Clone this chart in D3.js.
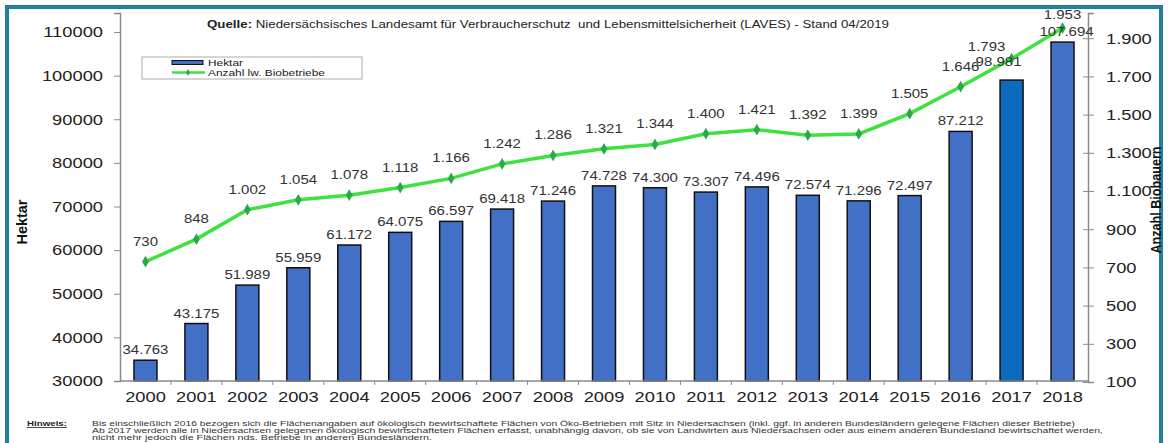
<!DOCTYPE html>
<html>
<head>
<meta charset="utf-8">
<script src="https://cdn.jsdelivr.net/npm/d3@7"></script>
<style>
  body { margin: 0; background: #fff; }
  svg { display: block; font-family: "Liberation Sans", Arial, sans-serif; }
</style>
</head>
<body>
<svg id="chart" width="1168" height="443"></svg>
<script>
// data
const years = ["2000","2001","2002","2003","2004","2005","2006","2007","2008","2009",
               "2010","2011","2012","2013","2014","2015","2016","2017","2018"];
const hektar = [34763, 43175, 51989, 55959, 61172, 64075, 66597, 69418, 71246, 74728,
                74300, 73307, 74496, 72574, 71296, 72497, 87212, 98981, 107694];
const betriebe = [730, 848, 1002, 1054, 1078, 1118, 1166, 1242, 1286, 1321,
                  1344, 1400, 1421, 1392, 1399, 1505, 1646, 1793, 1953];
const leftTicks = [30000, 40000, 50000, 60000, 70000, 80000, 90000, 100000, 110000];
const rightTicks = [100, 300, 500, 700, 900, 1100, 1300, 1500, 1700, 1900];
const legendLabels = ["Hektar", "Anzahl lw. Biobetriebe"];
const noteLines = [
  "Bis einschließlich 2016 bezogen sich die Flächenangaben auf ökologisch bewirtschaftete Flächen von Öko-Betrieben mit Sitz in Niedersachsen (inkl. ggf. in anderen Bundesländern gelegene Flächen dieser Betriebe)",
  "Ab 2017 werden alle in Niedersachsen gelegenen ökologisch bewirtschafteten Flächen erfasst, unabhängig davon, ob sie von Landwirten aus Niedersachsen oder aus einem anderen Bundesland bewirtschaftet werden,",
  "nicht mehr jedoch die Flächen nds. Betriebe in anderen Bundesländern."
];

const svg = d3.select("#chart");
const de = d3.formatLocale({decimal: ",", thousands: ".", grouping: [3], currency: ["", "€"]});
const fmt = de.format(",");

// the original picture is a bit stretched sideways, so text gets widened too
function widen(sel, k) {
  sel.each(function() {
    const w = this.getComputedTextLength();
    d3.select(this).attr("textLength", w * k).attr("lengthAdjust", "spacingAndGlyphs");
  });
}

// frame
svg.append("rect").attr("x", 7).attr("y", 7).attr("width", 1154).attr("height", 460)
  .attr("fill", "none").attr("stroke", "#21809c").attr("stroke-width", 4);

const L = 120, R = 1088, T = 13, B = 381;
const x = d3.scaleBand().domain(years).range([L, R]);
const yL = d3.scaleLinear().domain([30000, 114360]).range([B, T]);
const yR = d3.scaleLinear().domain([100, 2032]).range([B + 1, T]);

// faint plot top
svg.append("line").attr("x1", L).attr("x2", R).attr("y1", T).attr("y2", T)
  .attr("stroke", "#eee");

// bars
const bw = 23;
svg.selectAll("rect.bar").data(hektar).enter().append("rect")
  .attr("class", "bar")
  .attr("x", (d, i) => x(years[i]) + x.bandwidth() / 2 - bw / 2)
  .attr("y", d => yL(d))
  .attr("width", bw)
  .attr("height", d => B - yL(d))
  .attr("fill", (d, i) => i === 17 ? "#0b6cbf" : "#4270c6")
  .attr("stroke", "#111")
  .attr("stroke-width", 1.5);

// axes
const axL = svg.append("g").attr("transform", `translate(${L},0)`)
  .call(d3.axisLeft(yL).tickValues(leftTicks).tickSize(6).tickPadding(11).tickFormat(d3.format("d")));
const axR = svg.append("g").attr("transform", `translate(${R},0)`)
  .call(d3.axisRight(yR).tickValues(rightTicks).tickSize(6).tickPadding(12).tickFormat(fmt));
axR.selectAll(".tick line").attr("x1", -5);
const axB = svg.append("g").attr("transform", `translate(0,${B})`)
  .call(d3.axisBottom(x).tickSize(0).tickPadding(10));
// x ticks at category boundaries
svg.selectAll("line.xt").data(years.slice(1)).enter().append("line")
  .attr("x1", d => x(d)).attr("x2", d => x(d))
  .attr("y1", B).attr("y2", B + 4).attr("stroke", "#888");

[axL, axR, axB].forEach(g => {
  g.selectAll(".domain").attr("stroke", "#8a8a8a").attr("stroke-width", 1.5);
  g.selectAll(".tick line").attr("stroke", "#8a8a8a");
  g.selectAll(".tick text").attr("font-size", 15).attr("fill", "#222")
    .attr("font-family", "Liberation Sans, Arial, sans-serif");
  widen(g.selectAll(".tick text"), 1.22);
});
axB.select(".domain").attr("d", `M${L},0H${R}`);

// line
const cx = (d, i) => x(years[i]) + x.bandwidth() / 2;
svg.append("path").datum(betriebe)
  .attr("fill", "none").attr("stroke", "#3ee23e").attr("stroke-width", 3.5)
  .attr("d", d3.line().x(cx).y(d => yR(d)));
svg.selectAll("path.mk").data(betriebe).enter().append("path")
  .attr("class", "mk")
  .attr("d", d3.symbol().type(d3.symbolDiamond).size(40))
  .attr("transform", (d, i) => `translate(${cx(d, i)},${yR(d)})`)
  .attr("fill", "#2aa84a");

// value labels
const lineShift = {17: [-25, 8], 18: [0, 7]};
const ll = svg.selectAll("text.ll").data(betriebe).enter().append("text")
  .attr("x", (d, i) => cx(d, i) + (lineShift[i] ? lineShift[i][0] : 0))
  .attr("y", (d, i) => yR(d) - 16 + (lineShift[i] ? lineShift[i][1] : 0))
  .attr("text-anchor", "middle").attr("font-size", 12.5).attr("fill", "#333")
  .text(d => fmt(d));
widen(ll, 1.2);
const barShift = {17: [-13, -8], 18: [4, 0]};
const bl = svg.selectAll("text.bl").data(hektar).enter().append("text")
  .attr("x", (d, i) => cx(d, i) + (barShift[i] ? barShift[i][0] : 0))
  .attr("y", (d, i) => yL(d) - 6 + (barShift[i] ? barShift[i][1] : 0))
  .attr("text-anchor", "middle").attr("font-size", 12.5).attr("fill", "#333")
  .text(d => fmt(d));
widen(bl, 1.2);

// source line
const src = svg.append("text").attr("x", 207).attr("y", 28).attr("font-size", 10).attr("fill", "#222")
  .attr("xml:space", "preserve");
src.append("tspan").attr("font-weight", "bold").text("Quelle:");
src.append("tspan").text(" Niedersächsisches Landesamt für Verbraucherschutz  und Lebensmittelsicherheit (LAVES) - Stand 04/2019");
src.attr("textLength", 682).attr("lengthAdjust", "spacingAndGlyphs");

// legend
const lg = svg.append("g");
lg.append("rect").attr("x", 142).attr("y", 57).attr("width", 220).attr("height", 22)
  .attr("fill", "#fff").attr("stroke", "#999").attr("stroke-width", 0.8);
lg.append("rect").attr("x", 172).attr("y", 60.5).attr("width", 31).attr("height", 4)
  .attr("fill", "#4270c6").attr("stroke", "#111").attr("stroke-width", 1);
lg.append("line").attr("x1", 172).attr("x2", 205).attr("y1", 72.5).attr("y2", 72.5)
  .attr("stroke", "#3ee23e").attr("stroke-width", 2.5);
lg.append("path").attr("d", d3.symbol().type(d3.symbolDiamond).size(14))
  .attr("transform", "translate(188,72.5)").attr("fill", "#2aa84a");
const lt = lg.selectAll("text").data(legendLabels).enter().append("text")
  .attr("x", 208).attr("y", (d, i) => 65.5 + i * 10.5)
  .attr("font-size", 9.5).attr("fill", "#222").text(d => d);
widen(lt, 1.25);

// axis titles
svg.append("text").attr("transform", "translate(27,222) rotate(-90)")
  .attr("text-anchor", "middle").attr("font-size", 14).attr("font-weight", "bold")
  .attr("fill", "#111").attr("textLength", 45).attr("lengthAdjust", "spacingAndGlyphs")
  .text("Hektar");
svg.append("text").attr("transform", "translate(1161,200) rotate(-90)")
  .attr("text-anchor", "middle").attr("font-size", 14).attr("font-weight", "bold")
  .attr("fill", "#111").attr("textLength", 107).attr("lengthAdjust", "spacingAndGlyphs")
  .text("Anzahl Biobauern");

// note
svg.append("text").attr("x", 27).attr("y", 426).attr("font-size", 8).attr("font-weight", "bold")
  .attr("fill", "#222").attr("text-decoration", "underline")
  .attr("textLength", 40).attr("lengthAdjust", "spacingAndGlyphs").text("Hinweis:");
const noteLen = [983, 1011, 340];
svg.selectAll("text.note").data(noteLines).enter().append("text")
  .attr("x", 92).attr("y", (d, i) => 426 + i * 6.8)
  .attr("font-size", 7.6).attr("fill", "#333")
  .attr("textLength", (d, i) => noteLen[i]).attr("lengthAdjust", "spacingAndGlyphs")
  .text(d => d);
</script>
</body>
</html>
